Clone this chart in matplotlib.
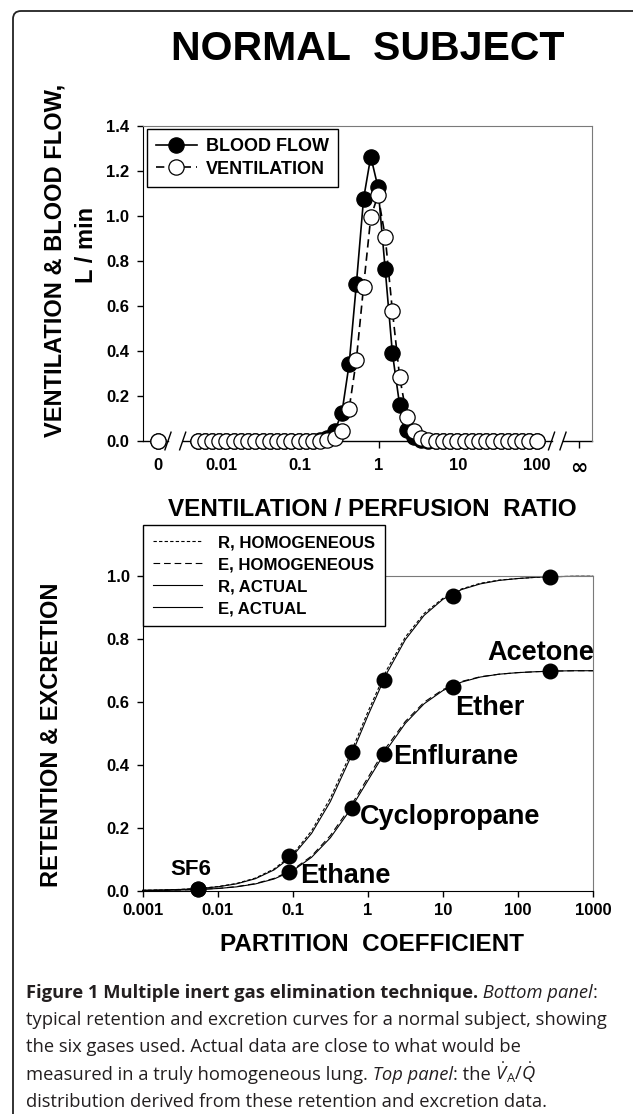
import matplotlib
matplotlib.use('Agg')
import matplotlib.pyplot as plt
from matplotlib.lines import Line2D
from matplotlib.patches import FancyBboxPatch
from matplotlib.ticker import NullLocator

plt.rcParams['font.family'] = ['Liberation Sans', 'DejaVu Sans']
plt.rcParams['font.weight'] = 'bold'
plt.rcParams['mathtext.fontset'] = 'custom'
plt.rcParams['mathtext.rm'] = 'Open Sans:weight=normal'
plt.rcParams['mathtext.it'] = 'Open Sans:style=italic:weight=normal'
plt.rcParams['mathtext.bf'] = 'Open Sans:weight=bold'

# ---------------- data : top panel (V/Q distribution) ----------------
vq_ratio = [0.00500, 0.00617, 0.00762, 0.00941, 0.01161, 0.01434, 0.01770, 0.02185,
            0.02698, 0.03331, 0.04111, 0.05076, 0.06266, 0.07735, 0.09550, 0.1179,
            0.1455, 0.1797, 0.2218, 0.2738, 0.3381, 0.4173, 0.5152, 0.6360,
            0.7852, 0.9694, 1.197, 1.477, 1.824, 2.252, 2.780, 3.432,
            4.236, 5.230, 6.457, 7.971, 9.840, 12.15, 15.00, 18.51,
            22.86, 28.22, 34.83, 43.00, 53.09, 65.54, 80.91, 100.0]
blood_flow = [0, 0, 0, 0, 0, 0, 0, 0,
              0, 0, 0, 0, 0, 0, 0, 0,
              0, 0.003, 0.012, 0.044, 0.126, 0.341, 0.696, 1.076,
              1.264, 1.128, 0.763, 0.390, 0.160, 0.049, 0.016, 0.004,
              0, 0, 0, 0, 0, 0, 0, 0,
              0, 0, 0, 0, 0, 0, 0, 0]
ventilation = [0, 0, 0, 0, 0, 0, 0, 0,
               0, 0, 0, 0, 0, 0, 0, 0,
               0, 0, 0.003, 0.012, 0.045, 0.143, 0.360, 0.686,
               0.994, 1.093, 0.908, 0.578, 0.285, 0.108, 0.045, 0.013,
               0.003, 0, 0, 0, 0, 0, 0, 0,
               0, 0, 0, 0, 0, 0, 0, 0]
shunt_blood_flow = 0.0
shunt_ventilation = 0.0
top_tick_labels = ['0', '0.01', '0.1', '1', '10', '100', '\u221e']

# ---------------- data : bottom panel (retention / excretion) ----------------
gas_names = ['SF6', 'Ethane', 'Cyclopropane', 'Enflurane', 'Ether', 'Acetone']
partition_coeff = [0.0055, 0.089, 0.61, 1.66, 13.6, 269.0]
retention = [0.005, 0.110, 0.441, 0.669, 0.936, 0.998]
excretion = [0.004, 0.060, 0.262, 0.434, 0.646, 0.698]

curve_partition = [0.001, 0.001778, 0.003162, 0.005623, 0.01, 0.01778, 0.03162, 0.05623,
                   0.1, 0.1778, 0.3162, 0.5623, 1.0, 1.778, 3.162, 5.623,
                   10.0, 17.78, 31.62, 56.23, 100.0, 177.8, 316.2, 562.3, 1000.0]
r_homogeneous = [0.0013, 0.0023, 0.0041, 0.0073, 0.013, 0.023, 0.040, 0.069,
                 0.116, 0.190, 0.294, 0.425, 0.568, 0.701, 0.806, 0.881,
                 0.929, 0.959, 0.977, 0.987, 0.992, 0.996, 0.998, 0.999, 0.999]
e_homogeneous = [0.0007, 0.0013, 0.0023, 0.0041, 0.0073, 0.0129, 0.0225, 0.0391,
                 0.0667, 0.110, 0.175, 0.260, 0.359, 0.457, 0.538, 0.599,
                 0.639, 0.665, 0.680, 0.688, 0.693, 0.696, 0.698, 0.699, 0.699]
r_actual = [0.0012, 0.0022, 0.0039, 0.0070, 0.0123, 0.0218, 0.038, 0.066,
            0.111, 0.182, 0.283, 0.413, 0.556, 0.690, 0.798, 0.875,
            0.926, 0.957, 0.975, 0.986, 0.992, 0.996, 0.998, 0.999, 0.999]
e_actual = [0.0007, 0.0012, 0.0022, 0.0039, 0.0069, 0.0122, 0.0214, 0.0372,
            0.0636, 0.106, 0.168, 0.252, 0.350, 0.448, 0.532, 0.594,
            0.636, 0.663, 0.679, 0.688, 0.693, 0.696, 0.698, 0.699, 0.699]
bottom_ticks = [0.001, 0.01, 0.1, 1, 10, 100, 1000]
bottom_tick_labels = ['0.001', '0.01', '0.1', '1', '10', '100', '1000']

# ---------------- layout ----------------
W, H = 633, 1114
fig = plt.figure(figsize=(W / 100, H / 100), dpi=100)


def fx(px):
    return px / W


def fy(py):
    return 1 - py / H


# frame around figure
frame = FancyBboxPatch((0.13, -0.5), 7.0, H / 100 - 0.11 + 0.5,
                       boxstyle='round,pad=0,rounding_size=0.08',
                       transform=fig.dpi_scale_trans, fill=False,
                       ec='#222222', lw=1.3, clip_on=False)
fig.add_artist(frame)

fig.text(fx(368), fy(59.5), 'NORMAL  SUBJECT', ha='center', va='baseline',
         fontsize=29.5, fontweight='bold')

# ---------------- top panel ----------------
ax1 = fig.add_axes([fx(142.5), fy(441), fx(592) - fx(142.5), fy(126) - fy(441)])
ax1.set_xscale('log')
ax1.set_xlim(0.001, 502)
ax1.set_ylim(0, 1.4)
shunt_pos = 0.00157
inf_pos = 344

ax1.plot(vq_ratio, blood_flow, '-', color='black', lw=1.2, marker='o', ms=11,
         mfc='black', mec='black', mew=0.9, zorder=3, clip_on=False,
         label='BLOOD FLOW')
ax1.plot(vq_ratio, ventilation, color='black', lw=1.2, ls=(0, (5, 3)), marker='o',
         ms=11, mfc='white', mec='black', mew=0.9, zorder=4, clip_on=False,
         label='VENTILATION')
ax1.plot([shunt_pos], [shunt_blood_flow], 'o', ms=11, mfc='black', mec='black',
         mew=0.9, zorder=3, clip_on=False)
ax1.plot([shunt_pos], [shunt_ventilation], 'o', ms=11, mfc='white', mec='black',
         mew=0.9, zorder=4, clip_on=False)

# broken x axis
ax1.spines['bottom'].set_visible(False)
for sp in ('top', 'right'):
    ax1.spines[sp].set_color('#7a7a7a')
tA = ax1.transAxes
for a, b in [(0, 0.0567), (0.0894, 0.910), (0.9355, 1.0)]:
    ax1.plot([a, b], [0, 0], transform=tA, color='black', lw=1.0,
             clip_on=False, zorder=2)
for xs in (0.0567, 0.0894, 0.910, 0.9355):
    ax1.plot([xs - 0.0068, xs + 0.0068], [-0.028, 0.028], transform=tA,
             color='black', lw=1.0, clip_on=False, zorder=2)

ax1.set_xticks([shunt_pos, 0.01, 0.1, 1, 10, 100, inf_pos])
ax1.set_xticklabels(top_tick_labels)
ax1.xaxis.set_minor_locator(NullLocator())
ax1.set_yticks([0, 0.2, 0.4, 0.6, 0.8, 1.0, 1.2, 1.4])
ax1.set_yticklabels(['0.0', '0.2', '0.4', '0.6', '0.8', '1.0', '1.2', '1.4'])
ax1.tick_params(axis='y', direction='out', length=4.5, width=1, labelsize=12, pad=5)
ax1.tick_params(axis='x', direction='out', length=5, width=1, labelsize=12, pad=7)
for lab in ax1.get_xticklabels() + ax1.get_yticklabels():
    lab.set_fontweight('bold')
inf_label = ax1.get_xticklabels()[-1]
inf_label.set_fontsize(15)
inf_label.set_family(['DejaVu Sans'])

leg1 = ax1.legend(loc='upper left', bbox_to_anchor=(0.009, 0.990), borderaxespad=0,
                  fancybox=False, edgecolor='black', framealpha=1, numpoints=1,
                  handlelength=2.3, handletextpad=0.5, borderpad=0.5,
                  labelspacing=0.3, prop={'size': 13, 'weight': 'bold'})
leg1.get_frame().set_linewidth(1.0)

fig.text(fx(61.5), fy(260), 'VENTILATION & BLOOD FLOW,', rotation=90,
         rotation_mode='anchor', ha='center', va='baseline', fontsize=17,
         fontweight='bold')
fig.text(fx(93), fy(245), 'L / min', rotation=90, rotation_mode='anchor',
         ha='center', va='baseline', fontsize=17, fontweight='bold')
fig.text(fx(372), fy(516), 'VENTILATION / PERFUSION  RATIO', ha='center',
         va='baseline', fontsize=17.5, fontweight='bold')

# ---------------- bottom panel ----------------
ax2 = fig.add_axes([fx(142.7), fy(890.7), fx(593) - fx(142.7), fy(576) - fy(890.7)])
ax2.set_xscale('log')
ax2.set_xlim(0.001, 1000)
ax2.set_ylim(0, 1.0)
for sp in ('top', 'right'):
    ax2.spines[sp].set_color('#7a7a7a')

ax2.plot(curve_partition, r_homogeneous, color='black', lw=0.8, ls=(0, (3, 2)),
         clip_on=False, label='R, HOMOGENEOUS')
ax2.plot(curve_partition, e_homogeneous, color='black', lw=0.8, ls=(0, (6, 3.5)),
         clip_on=False, label='E, HOMOGENEOUS')
ax2.plot(curve_partition, r_actual, color='black', lw=0.8, clip_on=False,
         label='R, ACTUAL')
ax2.plot(curve_partition, e_actual, color='black', lw=0.8, clip_on=False,
         label='E, ACTUAL')
ax2.plot(partition_coeff, retention, 'o', ms=10.5, color='black', clip_on=False,
         zorder=5)
ax2.plot(partition_coeff, excretion, 'o', ms=10.5, color='black', clip_on=False,
         zorder=5)

label_pos = {'SF6': (0.0044, 0.050, 'center', 16),
             'Ethane': (0.125, 0.023, 'left', 19.5),
             'Cyclopropane': (0.79, 0.213, 'left', 19.5),
             'Enflurane': (2.15, 0.404, 'left', 19.5),
             'Ether': (14.6, 0.558, 'left', 19.5),
             'Acetone': (38.6, 0.732, 'left', 19.5)}
for name in gas_names:
    x, y, ha, fs = label_pos[name]
    ax2.text(x, y, name, ha=ha, va='baseline', fontsize=fs, fontweight='bold',
             zorder=6)

ax2.set_xticks(bottom_ticks)
ax2.set_xticklabels(bottom_tick_labels)
ax2.xaxis.set_minor_locator(NullLocator())
ax2.set_yticks([0, 0.2, 0.4, 0.6, 0.8, 1.0])
ax2.set_yticklabels(['0.0', '0.2', '0.4', '0.6', '0.8', '1.0'])
ax2.tick_params(axis='y', direction='out', length=4.5, width=1, labelsize=12, pad=5)
ax2.tick_params(axis='x', direction='out', length=4, width=1, labelsize=12, pad=5)
for lab in ax2.get_xticklabels() + ax2.get_yticklabels():
    lab.set_fontweight('bold')

leg2 = ax2.legend(loc='upper left', bbox_to_anchor=(fx(142.7), fy(525)),
                  bbox_transform=fig.transFigure, borderaxespad=0,
                  fancybox=False, edgecolor='black', framealpha=1,
                  handlelength=2.9, handletextpad=1.0, borderpad=0.6,
                  labelspacing=0.42, prop={'size': 12.1, 'weight': 'bold'})
leg2.get_frame().set_linewidth(1.0)
leg2.set_zorder(10)

fig.text(fx(58.5), fy(735), 'RETENTION & EXCRETION', rotation=90,
         rotation_mode='anchor', ha='center', va='baseline', fontsize=17,
         fontweight='bold')
fig.text(fx(372), fy(951), 'PARTITION  COEFFICIENT', ha='center', va='baseline',
         fontsize=17.5, fontweight='bold')

# ---------------- caption ----------------
cap_color = '#231f20'
cap_lines = [
    [("Figure 1 Multiple inert gas elimination technique.", 'bold', 'normal'),
     (" Bottom panel", 'normal', 'italic'), (":", 'normal', 'normal')],
    [("typical retention and excretion curves for a normal subject, showing", 'normal', 'normal')],
    [("the six gases used. Actual data are close to what would be", 'normal', 'normal')],
    [("measured in a truly homogeneous lung.", 'normal', 'normal'),
     (" Top panel", 'normal', 'italic'), (": the", 'normal', 'normal'),
     (r" $\dot{V}_{\mathrm{A}}/\dot{Q}$", 'normal', 'normal')],
    [("distribution derived from these retention and excretion data.", 'normal', 'normal')],
]
renderer = fig.canvas.get_renderer()
probe = fig.text(0, 0, cap_lines[1][0][0], fontsize=12, family=['Open Sans'],
                 fontweight='normal')
w = probe.get_window_extent(renderer).width
probe.remove()
cap_size = 12 * 576 / w

x0 = 26
for i, runs in enumerate(cap_lines):
    xp = x0
    yb = 998 + 27.2 * i
    for txt, wt, st in runs:
        t = fig.text(fx(xp), fy(yb), txt, fontsize=cap_size, family=['Open Sans'],
                     fontweight=wt, fontstyle=st, color=cap_color, va='baseline',
                     ha='left')
        bb = t.get_window_extent(renderer)
        xp = bb.x1

fig.savefig('out.png', dpi=100)
